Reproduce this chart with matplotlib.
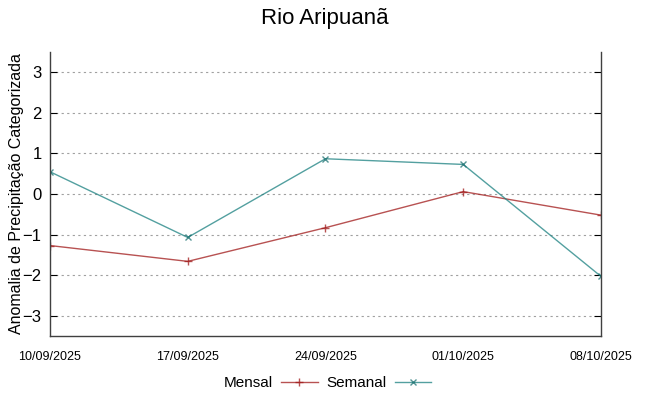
import matplotlib.pyplot as plt
import numpy as np

plt.rcParams['font.family'] = ['Liberation Sans', 'DejaVu Sans']

datas = ["10/09/2025", "17/09/2025", "24/09/2025", "01/10/2025", "08/10/2025"]
mensal = [-1.27, -1.66, -0.83, 0.06, -0.52]
semanal = [0.55, -1.07, 0.87, 0.73, -2.03]

x = np.arange(len(datas))

fig = plt.figure(figsize=(6.49, 3.96), dpi=100)
ax = fig.add_axes([0.077, 0.1515, 0.849, 0.717])

ax.plot(x, mensal, color='#a01818', lw=1.0, alpha=0.75, marker='+', ms=6,
        mew=1.0, mec='#a01818', label='Mensal')
ax.plot(x, semanal, color='#1a8080', lw=1.0, alpha=0.75, marker='x', ms=5,
        mew=1.0, mec='#1a7070', label='Semanal')

ax.set_xlim(0, len(datas) - 1)
ax.set_ylim(-3.5, 3.5)
ax.set_yticks([-3, -2, -1, 0, 1, 2, 3])
ax.set_xticks(x)
ax.set_xticklabels(datas, fontsize=9)
ax.tick_params(axis='y', labelsize=12, direction='in', right=True, length=5, pad=6)
ax.tick_params(axis='x', direction='in', length=0, pad=11)
ax.grid(axis='y', color='#a0a0a0', ls=(0, (2, 3)), lw=0.8)
ax.spines['top'].set_visible(False)
for s in ['left', 'right', 'bottom']:
    ax.spines[s].set_color('#404040')
    ax.spines[s].set_linewidth(1.0)

ax.set_ylabel('Anomalia de Precipitação Categorizada', fontsize=11.5)
ax.yaxis.set_label_coords(-0.047, 0.5)
fig.suptitle('Rio Aripuanã', fontsize=16, y=0.98)

fig.legend(loc='center', bbox_to_anchor=(0.505, 0.033), ncol=2, frameon=False,
           markerfirst=False, fontsize=11, handlelength=2.4, columnspacing=0.6,
           handletextpad=0.5)

fig.savefig('out.png', dpi=100)
